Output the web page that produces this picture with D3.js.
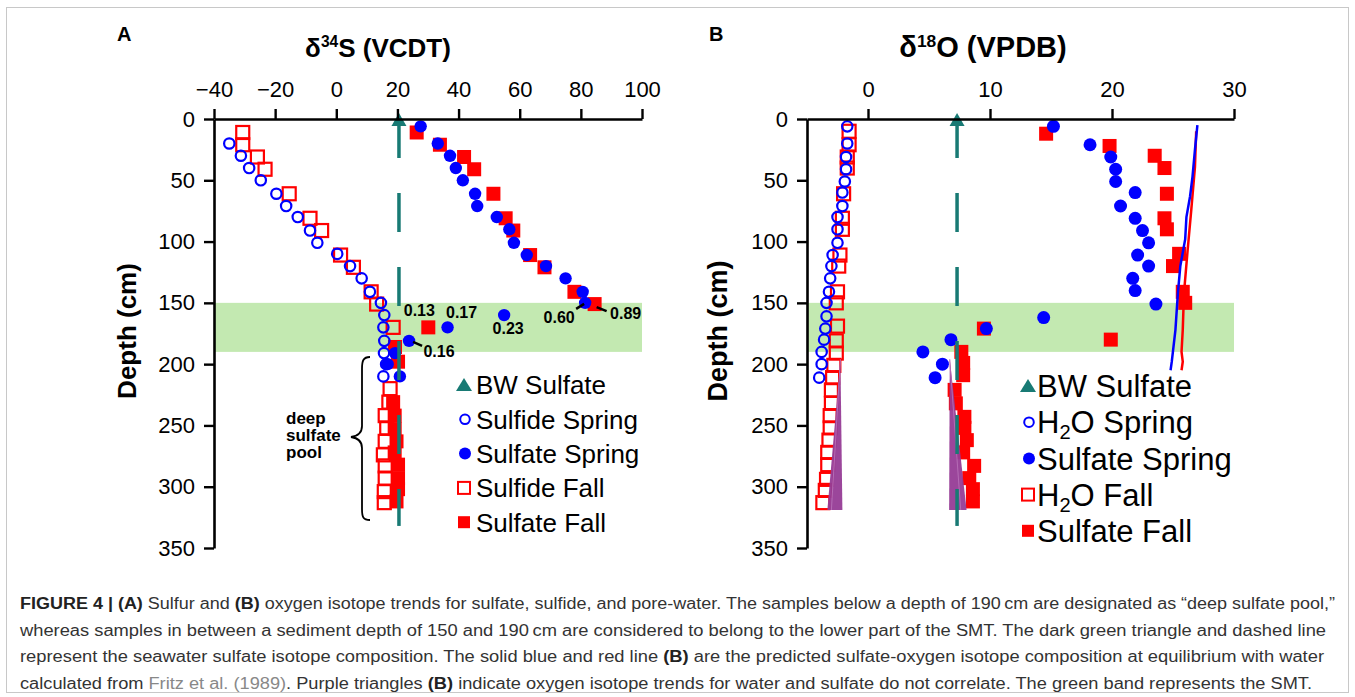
<!DOCTYPE html>
<html>
<head>
<meta charset="utf-8">
<script src="https://cdn.jsdelivr.net/npm/d3@7"></script>
<style>
  body { margin: 0; background: #fff; }
  text { font-family: "Liberation Sans", Arial, sans-serif; }
</style>
</head>
<body>
<svg id="vis" width="1355" height="697"></svg>
<script>
// ---- data (delta value, depth cm) ----
var ticksA = [-40, -20, 0, 20, 40, 60, 80, 100];
var ticksB = [0, 10, 20, 30];
var depthTicks = [0, 50, 100, 150, 200, 250, 300, 350];
var smtBand = [150, 190];
var bwA = 20.5, bwB = 7.3, bwEnd = 332;

var sulfideSpringA = [[-35,20],[-31.2,30],[-28.5,40],[-24.7,50],[-19.6,61],[-16.4,71],[-12.6,80],[-8.6,91],[-6.2,101],[0.3,110],[4.5,120],[8.3,130],[11,141],[14.6,150],[15.7,160],[15.4,170],[15.7,181],[15.6,191],[16.3,200],[15.4,210]];
var sulfateSpringA = [[27.6,6],[33.2,20],[37.2,30],[39.1,40],[41.4,50],[45.4,61],[46.1,71],[52.5,80],[56.6,90],[58.1,101],[62.3,111],[68.6,120],[75,130],[80.6,141],[81.4,150],[54.9,160],[36.4,170],[23.8,181],[19.2,191],[16.8,200],[20.8,210]];
var sulfideFallA = [[-30.6,11],[-30.6,21],[-25.8,31],[-23.3,41],[-15.4,61],[-8.6,81],[-4.8,91],[1.4,111],[5.6,121],[11.4,141],[13.2,151],[18.6,170],[17.6,220],[17.2,231],[16,242],[16.5,252],[16,263],[15.4,274],[16,283],[16,293],[15.7,304],[15.7,313]];
var sulfateFallA = [[26.3,11],[33.9,21],[41.8,31],[45.1,41],[51.4,61],[55.4,81],[57.9,91],[63.4,111],[68.1,121],[77.9,141],[84.5,151],[30.1,170],[19.2,186],[20.2,198],[18.6,231],[19.1,242],[19.1,253],[19.7,263],[19.1,272],[20.2,282],[20.2,293],[20.2,302],[19.7,312]];
var ratioLabels = [
  {text: "0.13", pt: [30.1,170], dx: -9, dy: -17, line: null},
  {text: "0.17", pt: [36.4,170], dx: 14, dy: -15, line: null},
  {text: "0.23", pt: [54.9,160], dx: 4, dy: 13, line: null},
  {text: "0.60", pt: [81.4,150], dx: -26, dy: 14, line: [-9, 6, -1, 1]},
  {text: "0.89", pt: [84.5,151], dx: 31, dy: 9, line: [2, 3, 12, 7]},
  {text: "0.16", pt: [23.8,181], dx: 30, dy: 10, line: [4, 1, 13, 5]}
];

var h2oSpringB = [[-1.7,6],[-1.7,20],[-1.8,31],[-1.8,41],[-1.9,51],[-2.1,60],[-2.1,71],[-2.5,80],[-2.5,90],[-2.5,101],[-2.9,111],[-3.0,120],[-3.1,130],[-3.2,141],[-3.4,150],[-3.4,161],[-3.5,171],[-3.6,180],[-3.8,190],[-3.8,200],[-4.0,211]];
var sulfateSpringB = [[15.2,6],[18.2,21],[19.9,31],[20.3,41],[20.3,51],[21.9,60],[20.7,71],[21.9,81],[22.5,91],[23.0,101],[22.1,111],[23.0,120],[21.7,130],[21.9,140],[23.6,151],[14.4,162],[9.7,171],[6.8,180],[4.5,190],[6.1,200],[5.5,211]];
var h2oFallB = [[-1.55,10],[-1.55,21],[-1.7,31],[-1.7,40],[-2.0,61],[-2.1,81],[-2.1,90],[-2.3,111],[-2.4,120],[-2.5,141],[-2.6,150],[-2.5,169],[-2.6,181],[-2.6,191],[-2.8,201],[-2.9,211],[-3.0,221],[-3.0,232],[-3.1,242],[-3.1,252],[-3.2,262],[-3.3,272],[-3.3,282],[-3.4,294],[-3.5,303],[-3.7,313]];
var sulfateFallB = [[14.6,12],[19.8,22],[23.5,30],[24.3,40],[24.5,61],[24.3,81],[24.5,90],[25.5,110],[25.0,120],[25.8,141],[26.0,150],[9.5,171],[19.9,180],[7.65,190],[7.8,199],[7.8,209],[7.1,221],[7.2,232],[7.9,243],[7.9,252],[8.1,262],[7.8,272],[8.7,283],[8.3,293],[8.6,302],[8.6,312]];
var eqBlueB = [[27.0,5],[26.8,25],[26.6,47],[26.4,63],[26.1,80],[26.0,98],[25.6,120],[25.4,142],[25.2,172],[24.9,198],[24.8,205]];
var eqRedB = [[26.9,10],[26.8,39],[26.5,74],[26.2,107],[25.9,142],[25.8,172],[25.7,190],[25.8,198],[25.7,205]];
var purpleH2O = [[-2.26,196],[-3.33,319],[-2.1,319]];
var purpleSO4 = [[6.7,196],[6.65,319],[8.08,319]];

var legendA = ["BW Sulfate", "Sulfide Spring", "Sulfate Spring", "Sulfide Fall", "Sulfate Fall"];
var legendB = ["BW Sulfate", "H|2|O Spring", "Sulfate Spring", "H|2|O Fall", "Sulfate Fall"];
var legendKinds = ["tri", "openCircle", "circle", "openSquare", "square"];

var caption = [
  [["b","FIGURE 4 | (A)"],["n"," Sulfur and "],["b","(B)"],["n"," oxygen isotope trends for sulfate, sulfide, and pore-water. The samples below a depth of 190\u2009cm are designated as \u201cdeep sulfate pool,\u201d"]],
  [["n","whereas samples in between a sediment depth of 150 and 190\u2009cm are considered to belong to the lower part of the SMT. The dark green triangle and dashed line"]],
  [["n","represent the seawater sulfate isotope composition. The solid blue and red line "],["b","(B)"],["n"," are the predicted sulfate-oxygen isotope composition at equilibrium with water"]],
  [["n","calculated from "],["g","Fritz et al. (1989)"],["n",". Purple triangles "],["b","(B)"],["n"," indicate oxygen isotope trends for water and sulfate do not correlate. The green band represents the SMT."]]
];

var BLUE = "#0000ff", RED = "#ff0000", TEAL = "#187a74", PURPLE = "#963c96", GREEN = "#c3e9b1";

var svg = d3.select("#vis");

// frame
svg.append("rect").attr("x", 6.5).attr("y", 7.5).attr("width", 1342).attr("height", 685)
  .attr("fill", "none").attr("stroke", "#c8c8c8").attr("stroke-width", 1);

var y = d3.scaleLinear().domain([0, 350]).range([119, 548]);
var xA = d3.scaleLinear().domain([-40, 100]).range([214, 642]);
var xB = d3.scaleLinear().domain([-5, 30]).range([807, 1234]);

function band(x) {
  svg.append("rect")
    .attr("x", x.range()[0]).attr("width", x.range()[1] - x.range()[0])
    .attr("y", y(smtBand[0])).attr("height", y(smtBand[1]) - y(smtBand[0]))
    .attr("fill", GREEN);
}
band(xA);
band(xB);

function marks(x, data, kind, r) {
  var g = svg.append("g");
  var sel = g.selectAll("." + kind).data(data).enter();
  if (kind === "openCircle" || kind === "circle") {
    sel.append("circle")
      .attr("cx", function(d) { return x(d[0]); })
      .attr("cy", function(d) { return y(d[1]); })
      .attr("r", r)
      .attr("fill", kind === "circle" ? BLUE : "none")
      .attr("stroke", BLUE)
      .attr("stroke-width", kind === "circle" ? 0 : 2.2);
  } else {
    sel.append("rect")
      .attr("x", function(d) { return x(d[0]) - r; })
      .attr("y", function(d) { return y(d[1]) - r; })
      .attr("width", 2 * r).attr("height", 2 * r)
      .attr("fill", kind === "square" ? RED : "none")
      .attr("stroke", RED)
      .attr("stroke-width", kind === "square" ? 0 : 2.2);
  }
}

function bwLine(x, v) {
  svg.append("line")
    .attr("x1", x(v)).attr("x2", x(v))
    .attr("y1", y(0)).attr("y2", y(bwEnd))
    .attr("stroke", TEAL).attr("stroke-width", 3.5)
    .attr("stroke-dasharray", "39,35");
  svg.append("path")
    .attr("d", "M" + x(v) + "," + (y(0) - 6) + "l7.5,13h-15z")
    .attr("fill", TEAL);
}

// ---- panel A marks ----
marks(xA, sulfideFallA, "openSquare", 6.5);
marks(xA, sulfateFallA, "square", 7);
marks(xA, sulfideSpringA, "openCircle", 5.2);
marks(xA, sulfateSpringA, "circle", 6.2);
bwLine(xA, bwA);

ratioLabels.forEach(function(l) {
  var px = xA(l.pt[0]), py = y(l.pt[1]);
  if (l.line) {
    svg.append("line")
      .attr("x1", px + l.line[0]).attr("y1", py + l.line[1])
      .attr("x2", px + l.line[2]).attr("y2", py + l.line[3])
      .attr("stroke", "#000").attr("stroke-width", 2.5);
  }
  svg.append("text").attr("x", px + l.dx).attr("y", py + l.dy + 6)
    .attr("text-anchor", "middle").attr("font-size", 16).attr("font-weight", "bold")
    .text(l.text);
});

// deep sulfate pool brace
svg.append("path")
  .attr("d", "M370,357 C363,357 362,361 362,369 L362,426 C362,433 358,436 351,437 C358,438 362,441 362,448 L362,509 C362,517 363,520 370,520")
  .attr("fill", "none").attr("stroke", "#000").attr("stroke-width", 1.8);
["deep", "sulfate", "pool"].forEach(function(t, i) {
  svg.append("text").attr("x", 286).attr("y", 424 + i * 17)
    .attr("font-size", 17).attr("font-weight", "bold").text(t);
});

// ---- panel B marks ----
marks(xB, h2oFallB, "openSquare", 6.5);
marks(xB, sulfateFallB, "square", 7);
marks(xB, h2oSpringB, "openCircle", 5.2);
marks(xB, sulfateSpringB, "circle", 6.5);

var tri = d3.line().x(function(d) { return xB(d[0]); }).y(function(d) { return y(d[1]); });
[purpleH2O, purpleSO4].forEach(function(p) {
  svg.append("path").attr("d", tri(p) + "Z").attr("fill", PURPLE).attr("fill-opacity", 0.95);
});
svg.append("path").attr("d", tri([purpleH2O[0], [-3.0, 319]])).attr("stroke", "#b56cb5").attr("stroke-width", 1).attr("fill", "none");
svg.append("path").attr("d", tri([purpleSO4[0], [7.6, 319]])).attr("stroke", "#b56cb5").attr("stroke-width", 1).attr("fill", "none");

bwLine(xB, bwB);

var curve = d3.line().x(function(d) { return xB(d[0]); }).y(function(d) { return y(d[1]); });
svg.append("path").attr("d", curve(eqRedB)).attr("fill", "none").attr("stroke", RED).attr("stroke-width", 2.5);
svg.append("path").attr("d", curve(eqBlueB)).attr("fill", "none").attr("stroke", BLUE).attr("stroke-width", 2.5);

// ---- axes ----
function axes(x, ticks, left) {
  var gx = svg.append("g").attr("transform", "translate(0," + y(0) + ")")
    .call(d3.axisTop(x).tickValues(ticks).tickSize(10).tickSizeOuter(0).tickPadding(12));
  var gy = svg.append("g").attr("transform", "translate(" + left + ",0)")
    .call(d3.axisLeft(y).tickValues(depthTicks).tickSize(10).tickSizeOuter(0).tickPadding(9));
  [gx, gy].forEach(function(g) {
    g.select(".domain").attr("stroke-width", 2.6);
    g.selectAll(".tick line").attr("stroke-width", 2.4);
    g.selectAll(".tick text").attr("font-size", 22).attr("fill", "#000")
      .attr("font-family", "'Liberation Sans', Arial, sans-serif");
  });
}
axes(xA, ticksA, xA.range()[0]);
axes(xB, ticksB, xB.range()[0]);

// titles
function title(cx, sym, sup, rest, size) {
  var t = svg.append("text").attr("x", cx).attr("y", 57).attr("text-anchor", "middle")
    .attr("font-size", size).attr("font-weight", "bold");
  t.append("tspan").text(sym);
  t.append("tspan").attr("font-size", size * 0.6).attr("dy", -10).text(sup);
  t.append("tspan").attr("dy", 10).text(rest);
}
title(378, "\u03b4", "34", "S (VCDT)", 26);
title(983, "\u03b4", "18", "O (VPDB)", 29);

svg.append("text").attr("x", 117).attr("y", 41).attr("font-size", 20).attr("font-weight", "bold").text("A");
svg.append("text").attr("x", 709).attr("y", 41).attr("font-size", 20).attr("font-weight", "bold").text("B");

[[127, 26], [718, 27]].forEach(function(p) {
  svg.append("text").attr("transform", "translate(" + (p[0] + 9) + ",331) rotate(-90)")
    .attr("text-anchor", "middle").attr("font-size", p[1]).attr("font-weight", "bold")
    .text("Depth (cm)");
});

// ---- legends ----
function legend(items, mx, tx, y0, step, size) {
  items.forEach(function(label, i) {
    var cy = y0 + i * step, kind = legendKinds[i];
    if (kind === "tri") {
      svg.append("path").attr("d", "M" + mx + "," + (cy - 7) + "l8,13h-16z").attr("fill", TEAL);
    } else if (kind === "openCircle" || kind === "circle") {
      svg.append("circle").attr("cx", mx + 1).attr("cy", cy).attr("r", kind === "circle" ? 6 : 4.8)
        .attr("fill", kind === "circle" ? BLUE : "none").attr("stroke", BLUE)
        .attr("stroke-width", kind === "circle" ? 0 : 2);
    } else {
      svg.append("rect").attr("x", mx - 6).attr("y", cy - 6).attr("width", 12).attr("height", 12)
        .attr("fill", kind === "square" ? RED : "none").attr("stroke", RED)
        .attr("stroke-width", kind === "square" ? 0 : 2);
    }
    var t = svg.append("text").attr("x", tx).attr("y", cy + size * 0.36).attr("font-size", size);
    var parts = label.split("|");
    if (parts.length === 3) {
      t.append("tspan").text(parts[0]);
      t.append("tspan").attr("font-size", size * 0.65).attr("dy", 6).text(parts[1]);
      t.append("tspan").attr("dy", -6).text(parts[2]);
    } else {
      t.text(label);
    }
  });
}
legend(legendA, 464, 476, 385, 34.3, 26);
legend(legendB, 1028, 1037, 386, 36.2, 31);

// ---- caption ----
var capWidths = [1315, 1306, 1304, 1292];
caption.forEach(function(line, i) {
  var t = svg.append("text").attr("x", 20).attr("y", 609 + i * 26.5)
    .attr("font-size", 16).attr("fill", "#333")
    .style("font-family", "'Liberation Sans Narrow', 'Arial Narrow', 'Liberation Sans', sans-serif")
    .attr("textLength", capWidths[i]).attr("lengthAdjust", "spacingAndGlyphs");
  line.forEach(function(seg) {
    var s = t.append("tspan").text(seg[1]);
    if (seg[0] === "b") s.attr("font-weight", "bold").attr("fill", "#222");
    if (seg[0] === "g") s.attr("fill", "#888");
  });
});
</script>
</body>
</html>
